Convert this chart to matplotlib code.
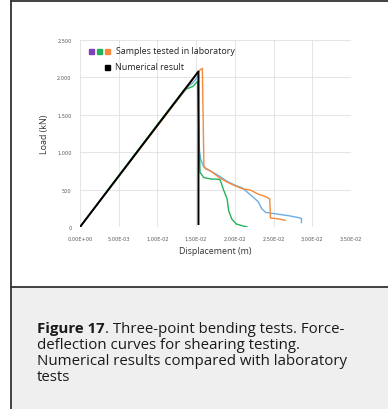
import matplotlib
matplotlib.use("Agg")
import matplotlib.pyplot as plt
from matplotlib.patches import Rectangle
from matplotlib.lines import Line2D

# numerical result (black)
num_x = [0.0, 0.0153, 0.0153]
num_y = [0, 2080, 40]

# laboratory samples
green_x = [0.0, 0.005, 0.010, 0.0135, 0.0140, 0.0146, 0.0152, 0.0153, 0.0155, 0.0160,
           0.0170, 0.0178, 0.0181, 0.0185, 0.0189, 0.0190, 0.0192, 0.0196, 0.0202, 0.0210, 0.0216]
green_y = [0, 690, 1370, 1840, 1855, 1880, 1950, 1500, 730, 660,
           640, 640, 630, 508, 400, 374, 218, 107, 40, 15, 0]

orange_x = [0.0, 0.005, 0.010, 0.0145, 0.0150, 0.0155, 0.0158, 0.0159, 0.0160, 0.0162,
            0.0170, 0.0180, 0.0190, 0.0200, 0.0210, 0.0220, 0.0230, 0.0240, 0.0245, 0.0246,
            0.0255, 0.0265]
orange_y = [0, 675, 1350, 1960, 2040, 2100, 2120, 1500, 820, 780,
            740, 660, 600, 552, 510, 495, 440, 405, 375, 120,
            110, 90]

blue_x = [0.0, 0.005, 0.010, 0.0140, 0.0145, 0.0150, 0.0153, 0.0154, 0.0156, 0.0160,
          0.0170, 0.0180, 0.0190, 0.0200, 0.0210, 0.0220, 0.0230, 0.0235, 0.0240, 0.0250,
          0.0260, 0.0270, 0.0280, 0.0286, 0.0286]
blue_y = [0, 680, 1360, 1880, 1920, 1980, 2030, 1020, 900, 800,
          740, 680, 610, 560, 520, 430, 340, 240, 195, 180,
          165, 150, 130, 115, 60]

x_ticks = [0.0, 0.005, 0.010, 0.015, 0.020, 0.025, 0.030, 0.035]
x_labels = ["0,00E+00", "5,00E-03", "1,00E-02", "1,50E-02", "2,00E-02", "2,50E-02", "3,00E-02", "3,50E-02"]
y_ticks = [0, 500, 1000, 1500, 2000, 2500]
y_labels = ["0", "500", "1.000", "1.500", "2.000", "2.500"]

caption_bold = "Figure 17"
caption_rest = ". Three-point bending tests. Force-\ndeflection curves for shearing testing.\nNumerical results compared with laboratory\ntests"

c_purple = "#8040b8"
c_green = "#22b35a"
c_orange = "#f5893c"
c_blue = "#6aaee8"

W, H = 388, 410
fig = plt.figure(figsize=(W / 100, H / 100), dpi=100)
fig.patch.set_facecolor("white")

# caption panel background and frame
fig.add_artist(Rectangle((11 / W, 0), 1 - 11 / W, (H - 288) / H, transform=fig.transFigure,
                         facecolor="#efefef", edgecolor="none", zorder=0))
fig.add_artist(Line2D([11 / W, 11 / W], [0, 1 - 2 / H], transform=fig.transFigure, color="#333333", lw=1.3))
fig.add_artist(Line2D([11 / W, 1], [1 - 2 / H, 1 - 2 / H], transform=fig.transFigure, color="#333333", lw=1.3))
fig.add_artist(Line2D([11 / W, 1], [(H - 288) / H, (H - 288) / H], transform=fig.transFigure, color="#333333", lw=1.3))

ax = fig.add_axes([80 / W, (H - 228) / H, (351 - 80) / W, (228 - 41) / H])
ax.plot(blue_x, blue_y, color=c_blue, lw=1.0)
ax.plot(orange_x, orange_y, color=c_orange, lw=1.0)
ax.plot(green_x, green_y, color=c_green, lw=1.0)
ax.plot(num_x, num_y, color="black", lw=1.4)

ax.set_xlim(0, 0.035)
ax.set_ylim(0, 2500)
ax.set_xticks(x_ticks)
ax.set_xticklabels(x_labels)
ax.set_yticks(y_ticks)
ax.set_yticklabels(y_labels)
ax.tick_params(length=0, labelsize=3.6, labelcolor="#595959", pad=6)
ax.grid(True, color="#e0e0e0", lw=0.6)
ax.set_axisbelow(True)
for s in ax.spines.values():
    s.set_visible(False)
ax.set_xlabel("Displacement (m)", fontsize=6.4, labelpad=4, family="Open Sans", color="#333333")
ax.set_ylabel("Load (kN)", fontsize=6.4, labelpad=6, family="Open Sans", color="#333333")

# legend drawn by hand
sq = 5
for cx, col in [(91, c_purple), (99, c_green), (107, c_orange)]:
    fig.add_artist(Rectangle(((cx - sq / 2) / W, 1 - (52 + sq / 2) / H), sq / W, sq / H,
                             transform=fig.transFigure, color=col))
fig.add_artist(Rectangle(((108 - sq / 2) / W, 1 - (68 + sq / 2) / H), sq / W, sq / H,
                         transform=fig.transFigure, color="black"))
fig.text(116 / W, 1 - 52 / H, "Samples tested in laboratory", fontsize=6.4, va="center",
         family="Open Sans", color="#222222")
fig.text(115 / W, 1 - 68 / H, "Numerical result", fontsize=6.4, va="center",
         family="Open Sans", color="#222222")

# caption
fs = 10.8
y0 = 333
step = 16
t = fig.text(37 / W, 1 - y0 / H, caption_bold, fontsize=fs, fontweight="bold", va="baseline",
             family="Open Sans", color="#1a1a1a")
fig.canvas.draw()
bb = t.get_window_extent()
fig.text(bb.x1 / W, 1 - y0 / H, caption_rest.split("\n")[0], fontsize=fs, va="baseline",
         family="Open Sans", color="#1a1a1a")
for i, line in enumerate(caption_rest.split("\n")[1:]):
    fig.text(37 / W, 1 - (y0 + step * (i + 1)) / H, line, fontsize=fs, va="baseline",
             family="Open Sans", color="#1a1a1a")

fig.savefig("out.png", dpi=100)
